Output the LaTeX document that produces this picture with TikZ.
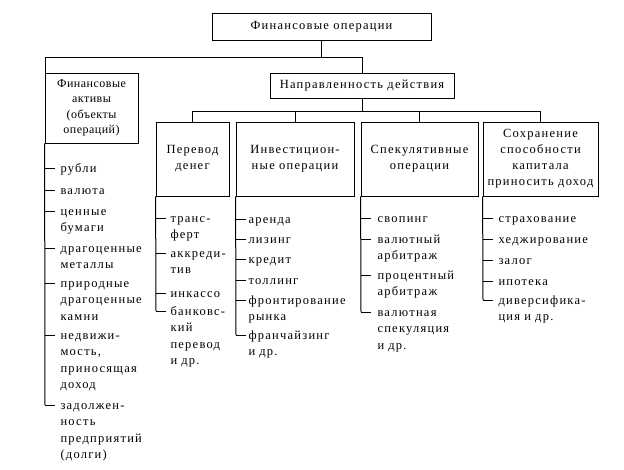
\documentclass[tikz,border=0pt]{standalone}
\usepackage{fontspec}
\setmainfont[LetterSpace=10]{Liberation Serif}
\usetikzlibrary{positioning}

\tikzset{
  box/.style={draw,thick,align=center,inner sep=2pt},
  item/.style={anchor=base west,align=left,inner sep=0pt,text width=110pt,
    font=\fontsize{12.5}{16.5}\selectfont},
}

\begin{document}
\begin{tikzpicture}[x=1pt,y=-1pt,line width=1pt,font=\fontsize{12.5}{16}\selectfont]
\useasboundingbox (0,0) rectangle (624,469);

\node[box,minimum width=219,minimum height=27] (ops) at (321.5,26.5) {Финансовые операции};
\node[box,minimum width=93,minimum height=70,inner sep=1pt,
  font=\fontsize{12}{15.5}\selectfont\addfontfeature{LetterSpace=4}] (activ) at (91.5,108)
  {Финансовые\\активы\\(объекты\\операций)};
\node[box,minimum width=184,minimum height=25] (napr) at (362,85.5) {Направленность действия};

\node[box,minimum width=73,minimum height=74] (perevod) at (192.5,159) {Перевод\\денег};
\node[box,minimum width=118,minimum height=74] (invest) at (295,159) {Инвестицион-\\ные операции};
\node[box,minimum width=117,minimum height=74] (spek) at (419.5,159) {Спекулятивные\\операции};
\node[box,minimum width=115,minimum height=74] (sohr) at (540.5,159) {Сохранение\\способности\\капитала\\приносить доход};

% upper links
\draw (ops.south) -- ++(0,17) coordinate (fork);
\draw (activ.north) ++(-46.5,0) coordinate (a) (a) |- (fork) -| (napr.north);
\draw (napr.south) -- ++(0,13) coordinate (fork2);
\draw (perevod.north) |- (fork2) -| (sohr.north);
\draw (invest.north) -- (invest.north |- fork2);
\draw (spek.north) -- (spek.north |- fork2);

% assets
\foreach \y/\t [count=\i] in {168/рубли, 190/валюта, 211/{ценные\\бумаги},
    248/{драгоценные\\металлы}, 283/{природные\\драгоценные\\камни},
    335/{недвижи-\\мость,\\приносящая\\доход}, 405/{задолжен-\\ность\\предприятий\\(долги)}}{
  \path (45,\y) coordinate (fa\i) ++(15,4) node[item] (fat\i) {\t};
  \draw (fa\i) -- ++(10,0);
}
\draw (activ.south west) -- (fa7);

% transfer
\foreach \y/\t [count=\i] in {218/{транс-\\ферт}, 253/{аккреди-\\тив}, 293/инкассо,
    311/{банковс-\\кий\\перевод\\и др.}}{
  \path (156,\y) coordinate (pd\i) ++(14,4) node[item] (pdt\i) {\t};
  \draw (pd\i) -- ++(10,0);
}
\draw (perevod.south west) -- (pd4);

% investment
\foreach \y/\t [count=\i] in {219/аренда, 239/лизинг, 259/кредит, 280/толлинг,
    300/{фронтирование\\рынка}, 335/{франчайзинг\\и др.}}{
  \path (236,\y) coordinate (io\i) ++(12,4) node[item] (iot\i) {\t};
  \draw (io\i) -- ++(10,0);
}
\draw (invest.south west) -- (io6);

% speculation
\foreach \y/\t [count=\i] in {218/свопинг, 239/{валютный\\арбитраж}, 275/{процентный\\арбитраж},
    312/{валютная\\спекуляция\\и др.}}{
  \path (361,\y) coordinate (so\i) ++(16,4) node[item] (sot\i) {\t};
  \draw (so\i) -- ++(10,0);
}
\draw (spek.south west) -- (so4);

% preservation
\foreach \y/\t [count=\i] in {218/страхование, 239/хеджирование, 260/залог, 281/ипотека,
    300/{диверсифика-\\ция и др.}}{
  \path (483,\y) coordinate (sk\i) ++(15,4) node[item] (skt\i) {\t};
  \draw (sk\i) -- ++(10,0);
}
\draw (sohr.south west) -- (sk5);

\end{tikzpicture}
\end{document}
